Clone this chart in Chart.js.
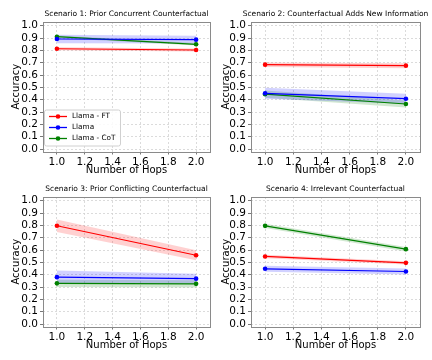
<!DOCTYPE html>
<html>
<head>
<meta charset="utf-8">
<script src="https://cdn.jsdelivr.net/npm/chart.js@4.4.1/dist/chart.umd.min.js"></script>
<style>
  html, body { margin: 0; padding: 0; background: #fff; }
  #wrap { position: relative; width: 432px; height: 360px; overflow: hidden; }
  .panel { position: absolute; width: 216px; height: 180px; }
</style>
</head>
<body>
<div id="wrap">
  <div class="panel" style="left:0;top:0"><canvas id="s1" width="216" height="180"></canvas></div>
  <div class="panel" style="left:216px;top:0"><canvas id="s2" width="216" height="180"></canvas></div>
  <div class="panel" style="left:0;top:175px"><canvas id="s3" width="216" height="180"></canvas></div>
  <div class="panel" style="left:216px;top:175px"><canvas id="s4" width="216" height="180"></canvas></div>
</div>
<script>
const hops = [1.0, 2.0]
const xTicks = [1.0, 1.2, 1.4, 1.6, 1.8, 2.0]
const yTicks = [0, 0.1, 0.2, 0.3, 0.4, 0.5, 0.6, 0.7, 0.8, 0.9, 1.0]
const seriesNames = ['Llama - FT', 'Llama', 'Llama - CoT']
const titles = [
  'Scenario 1: Prior Concurrent Counterfactual',
  'Scenario 2: Counterfactual Adds New Information',
  'Scenario 3: Prior Conflicting Counterfactual',
  'Scenario 4: Irrelevant Counterfactual',
]

// mean accuracy per hop count
const ftS1 = [0.813, 0.803]
const llamaS1 = [0.892, 0.887]
const cotS1 = [0.911, 0.849]
const ftS2 = [0.684, 0.676]
const llamaS2 = [0.452, 0.408]
const cotS2 = [0.445, 0.365]
const ftS3 = [0.797, 0.558]
const llamaS3 = [0.380, 0.368]
const cotS3 = [0.330, 0.326]
const ftS4 = [0.548, 0.496]
const llamaS4 = [0.448, 0.426]
const cotS4 = [0.796, 0.607]

// half width of the shaded band
const ftErrS1 = [0.012, 0.012]
const llamaErrS1 = [0.035, 0.032]
const cotErrS1 = [0.010, 0.010]
const ftErrS2 = [0.018, 0.020]
const llamaErrS2 = [0.045, 0.040]
const cotErrS2 = [0.030, 0.028]
const ftErrS3 = [0.050, 0.040]
const llamaErrS3 = [0.055, 0.040]
const cotErrS3 = [0.030, 0.030]
const ftErrS4 = [0.014, 0.014]
const llamaErrS4 = [0.025, 0.025]
const cotErrS4 = [0.018, 0.018]

const colors = ['#ff0000', '#0000ff', '#008000']
const bandColors = ['rgba(255,0,0,0.18)', 'rgba(0,0,255,0.18)', 'rgba(0,128,0,0.18)']

const FONT = "'DejaVu Sans', sans-serif"

const scenarios = [
  { means: [ftS1, llamaS1, cotS1], errs: [ftErrS1, llamaErrS1, cotErrS1] },
  { means: [ftS2, llamaS2, cotS2], errs: [ftErrS2, llamaErrS2, cotErrS2] },
  { means: [ftS3, llamaS3, cotS3], errs: [ftErrS3, llamaErrS3, cotErrS3] },
  { means: [ftS4, llamaS4, cotS4], errs: [ftErrS4, llamaErrS4, cotErrS4] },
]

// left column panels have a wider margin on the left
const panelLayout = [
  { padLeft: 6, yWidth: 37, padRight: 6 },
  { padLeft: 0, yWidth: 35, padRight: 12 },
  { padLeft: 6, yWidth: 37, padRight: 6 },
  { padLeft: 0, yWidth: 35, padRight: 12 },
]

const framePlugin = {
  id: 'frame',
  afterDraw(chart) {
    const { ctx, chartArea: a } = chart
    ctx.save()
    ctx.strokeStyle = '#8a8a8a'
    ctx.lineWidth = 1
    ctx.strokeRect(Math.round(a.left) + 0.5, Math.round(a.top) + 0.5,
      Math.round(a.right - a.left), Math.round(a.bottom - a.top))
    ctx.restore()
  }
}

const axesTitlePlugin = {
  id: 'axesTitle',
  afterDraw(chart, args, opts) {
    const { ctx, chartArea: a } = chart
    ctx.save()
    ctx.font = `7.5px ${FONT}`
    ctx.fillStyle = '#000'
    ctx.textAlign = 'center'
    ctx.textBaseline = 'middle'
    ctx.fillText(opts.text, (a.left + a.right) / 2, a.top - 8)
    ctx.restore()
  }
}

const innerLegendPlugin = {
  id: 'innerLegend',
  afterDraw(chart, args, opts) {
    if (!opts.show) return
    const { ctx, chartArea: a } = chart
    const items = chart.data.datasets.filter(d => d.isSeries)
    const x = a.left + 1, w = 76, h = 36
    const y = a.bottom - 6 - h
    ctx.save()
    ctx.fillStyle = 'rgba(255,255,255,0.85)'
    ctx.strokeStyle = '#d0d0d0'
    ctx.lineWidth = 1
    ctx.beginPath()
    ctx.roundRect(x + 0.5, y + 0.5, w, h, 2)
    ctx.fill()
    ctx.stroke()
    ctx.font = `7.3px ${FONT}`
    ctx.textBaseline = 'middle'
    items.forEach((d, i) => {
      const ry = y + 7 + i * 11
      ctx.strokeStyle = d.borderColor
      ctx.lineWidth = 1.3
      ctx.beginPath()
      ctx.moveTo(x + 5, ry)
      ctx.lineTo(x + 23, ry)
      ctx.stroke()
      ctx.fillStyle = d.borderColor
      ctx.beginPath()
      ctx.arc(x + 14, ry, 2.3, 0, Math.PI * 2)
      ctx.fill()
      ctx.fillStyle = '#000'
      ctx.fillText(d.label, x + 28, ry)
    })
    ctx.restore()
  }
}

function toPoints(values) {
  return hops.map((h, i) => ({ x: h, y: values[i] }))
}

function getDatasets({ means, errs }) {
  const datasets = []
  means.forEach((m, s) => {
    datasets.push({
      data: toPoints(m.map((v, i) => v - errs[s][i])),
      borderWidth: 0, pointRadius: 0, fill: false, order: 2,
    })
    datasets.push({
      data: toPoints(m.map((v, i) => v + errs[s][i])),
      borderWidth: 0, pointRadius: 0, fill: '-1',
      backgroundColor: bandColors[s], order: 2,
    })
  })
  means.forEach((m, s) => {
    datasets.push({
      label: seriesNames[s],
      isSeries: true,
      data: toPoints(m),
      borderColor: colors[s],
      backgroundColor: colors[s],
      borderWidth: 1.2,
      pointRadius: 2.3,
      pointBorderWidth: 0,
      fill: false,
      order: 1,
    })
  })
  return datasets
}

function getAxisGrid() {
  return {
    color: '#d2d2d2',
    lineWidth: 0.8,
    tickColor: '#555',
    tickLength: 3,
    tickBorderDash: [],
    tickWidth: 0.8,
    drawOnChartArea: true,
  }
}

function getAxisBorder() {
  return { display: false, dash: [2, 2] }
}

function getConfig(index) {
  const lay = panelLayout[index]
  return {
    type: 'line',
    data: { datasets: getDatasets(scenarios[index]) },
    plugins: [framePlugin, axesTitlePlugin, innerLegendPlugin],
    options: {
      responsive: false,
      animation: false,
      events: [],
      layout: { padding: { top: 22, left: lay.padLeft, right: lay.padRight, bottom: 0 } },
      plugins: {
        legend: { display: false },
        tooltip: { enabled: false },
        axesTitle: { text: titles[index] },
        innerLegend: { show: index === 0 },
      },
      scales: {
        x: {
          type: 'linear',
          min: 0.9,
          max: 2.1,
          afterBuildTicks: scale => { scale.ticks = xTicks.map(value => ({ value })) },
          afterFit: scale => { scale.height = 28.5 },
          grid: getAxisGrid(),
          border: getAxisBorder(),
          ticks: {
            color: '#000',
            padding: 1,
            maxRotation: 0,
            autoSkip: false,
            font: { family: FONT, size: 10.5 },
            callback: v => v.toFixed(1),
          },
          title: {
            display: true,
            text: 'Number of Hops',
            color: '#000',
            font: { family: FONT, size: 10 },
            padding: { top: 0, bottom: 4 },
          },
        },
        y: {
          min: -0.02,
          max: 1.03,
          afterBuildTicks: scale => { scale.ticks = yTicks.map(value => ({ value })) },
          afterFit: scale => { scale.width = lay.yWidth },
          grid: getAxisGrid(),
          border: getAxisBorder(),
          ticks: {
            color: '#000',
            padding: 2,
            autoSkip: false,
            font: { family: FONT, size: 10.5 },
            callback: v => v.toFixed(1),
          },
          title: {
            display: true,
            text: 'Accuracy',
            color: '#000',
            font: { family: FONT, size: 10 },
            padding: { top: 4, bottom: 0 },
          },
        },
      },
    },
  }
}

['s1', 's2', 's3', 's4'].forEach((id, i) => {
  new Chart(document.getElementById(id).getContext('2d'), getConfig(i))
})
</script>
</body>
</html>
